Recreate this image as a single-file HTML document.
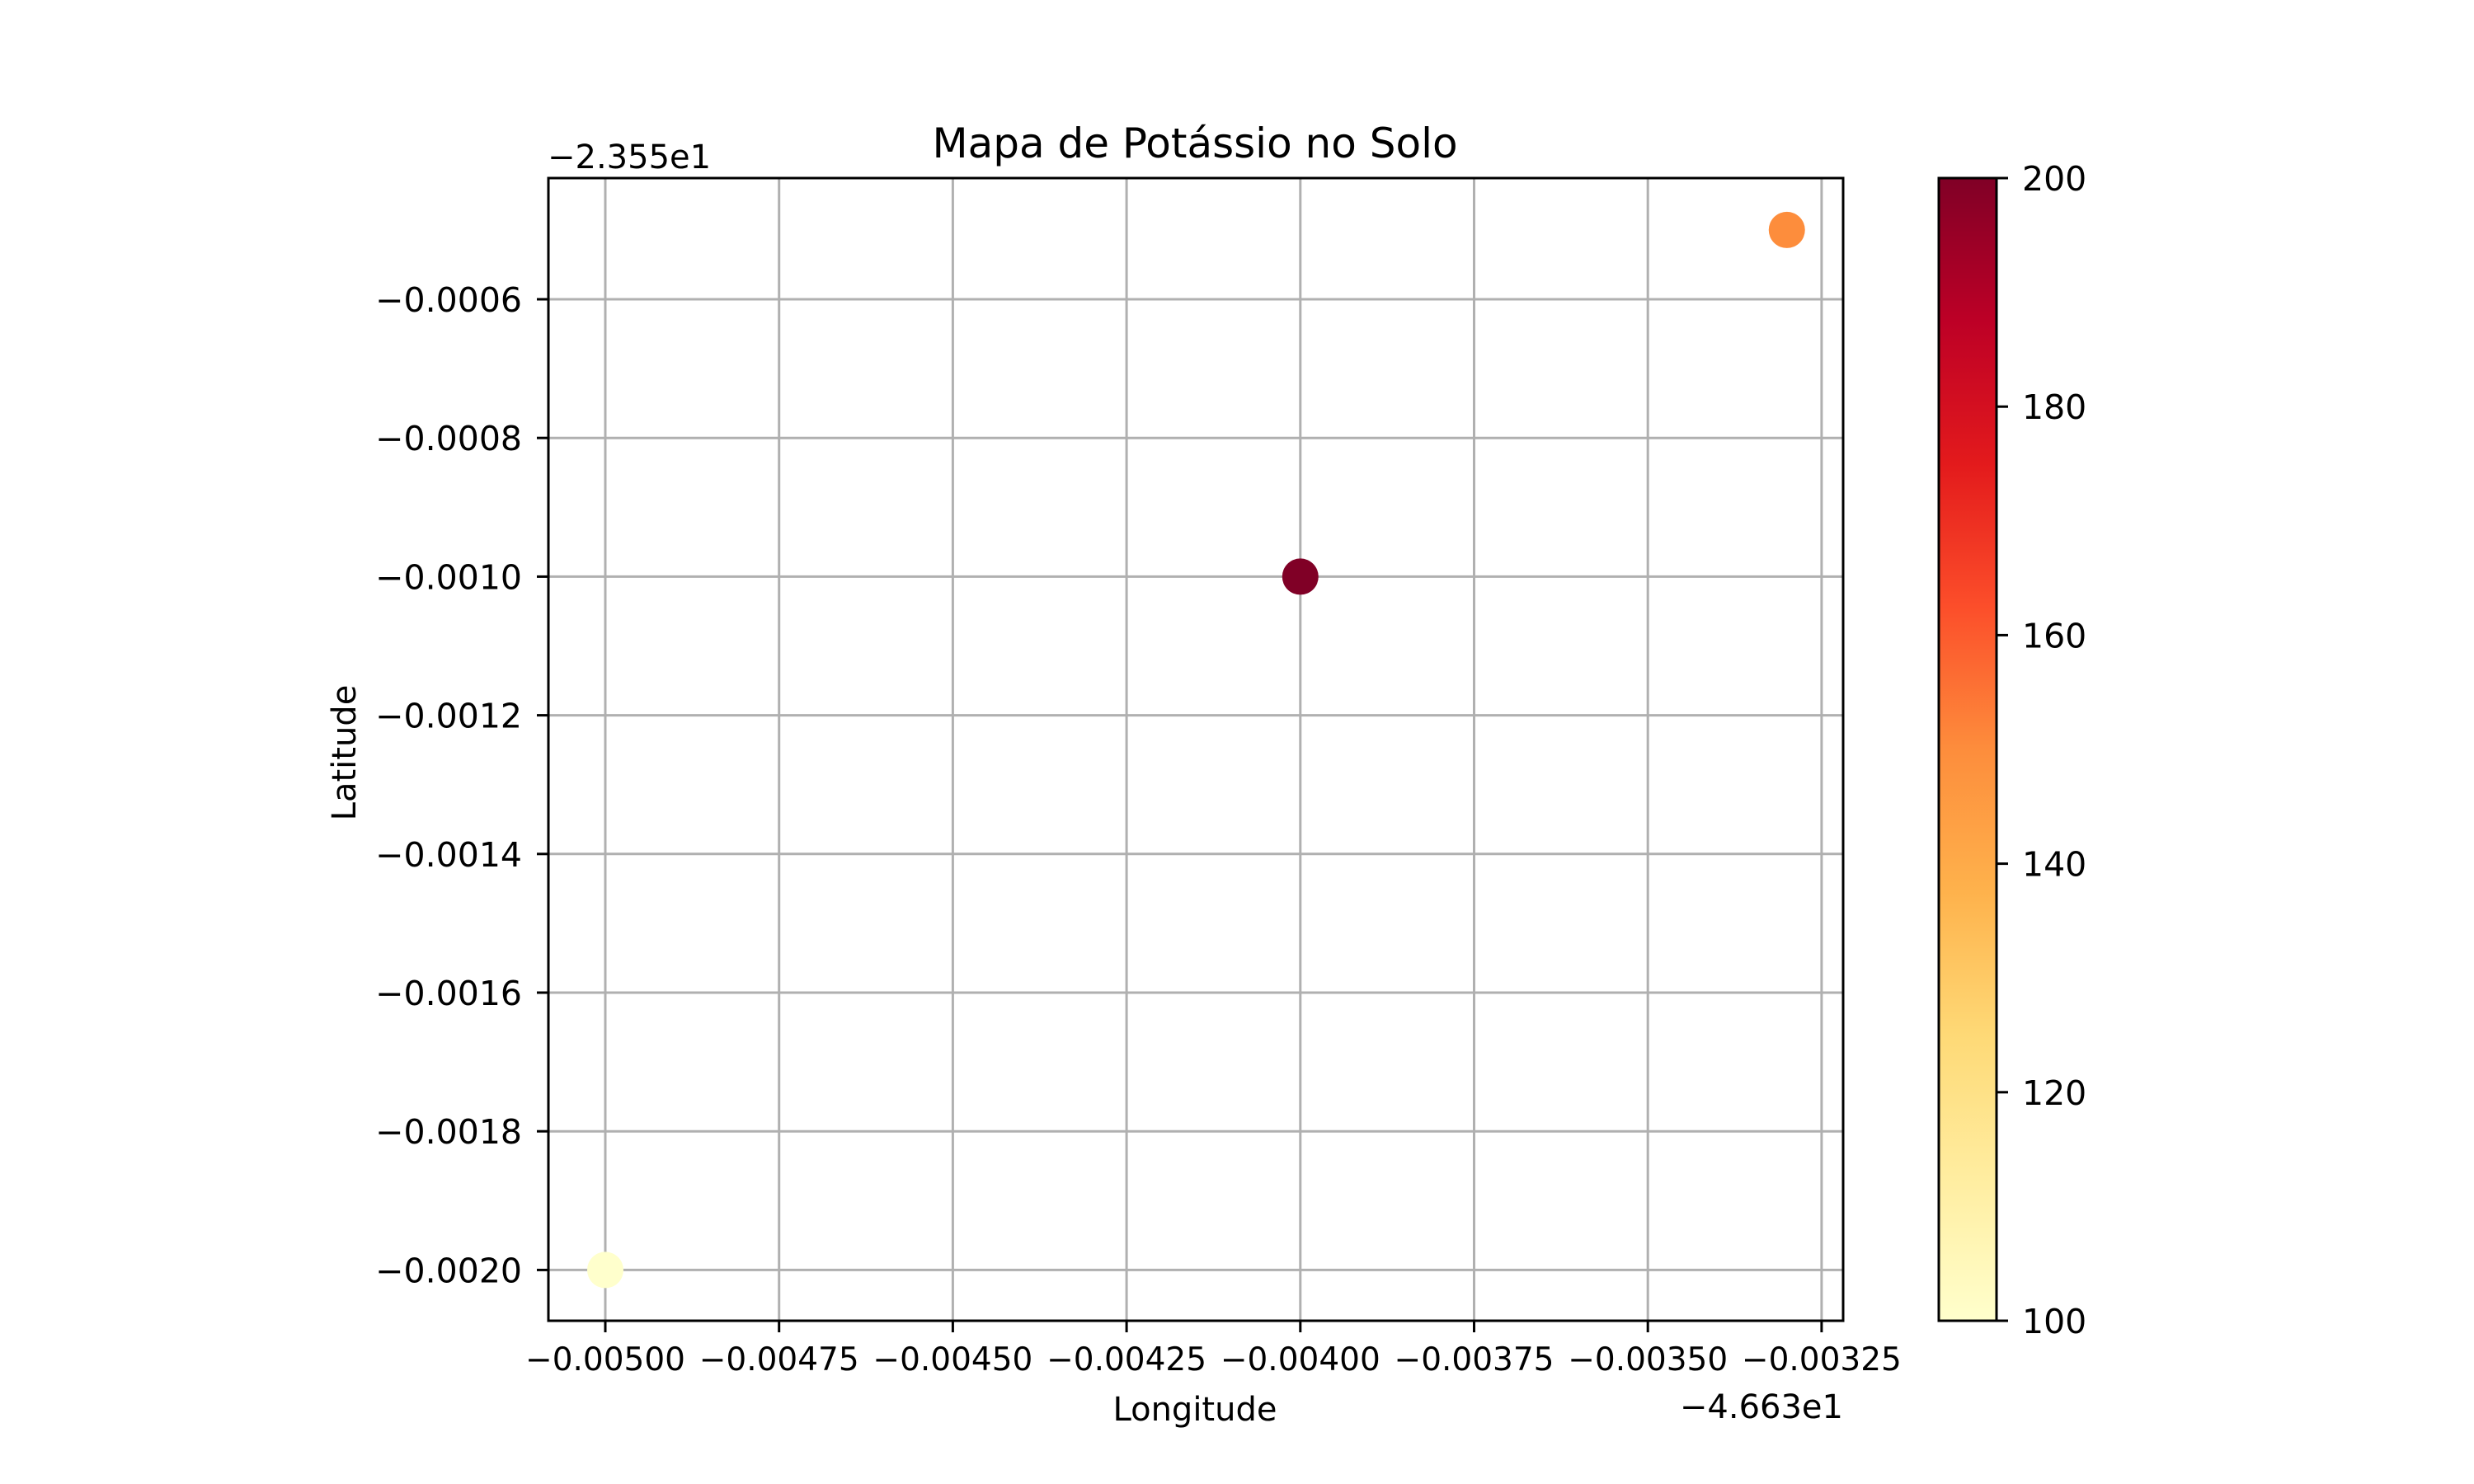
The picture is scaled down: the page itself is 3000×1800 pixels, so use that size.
<!DOCTYPE html>
<html><head><meta charset="utf-8"><style>
html,body{margin:0;padding:0;background:#fff;}
svg{display:block;font-family:"DejaVu Sans","Liberation Sans",sans-serif;}
</style></head><body>
<svg id="chart" width="3000" height="1800" viewBox="0 0 3000 1800">
<defs>
<linearGradient id="ylorrd" x1="0" y1="1" x2="0" y2="0">
<stop offset="0" stop-color="#ffffcc"/><stop offset="0.125" stop-color="#ffeda0"/>
<stop offset="0.25" stop-color="#fed976"/><stop offset="0.375" stop-color="#feb24c"/>
<stop offset="0.5" stop-color="#fd8d3c"/><stop offset="0.625" stop-color="#fc4e2a"/>
<stop offset="0.75" stop-color="#e31a1c"/><stop offset="0.875" stop-color="#bd0026"/>
<stop offset="1" stop-color="#800026"/></linearGradient>
</defs>
<g id="grid"></g>
<g id="points"></g>
<rect x="665" y="216" width="1570" height="1386" fill="none" stroke="#000" stroke-width="3"/>
<g id="ticks"></g>
<text x="1449" y="191" font-size="50" text-anchor="middle">Mapa de Potássio no Solo</text>
<text x="664" y="204" font-size="40">−2.355e1</text>
<text x="2235" y="1720" font-size="40" text-anchor="end">−4.663e1</text>
<text x="1449" y="1723" font-size="40" text-anchor="middle">Longitude</text>
<text x="431" y="913" font-size="40" text-anchor="middle" transform="rotate(-90 431 913)">Latitude</text>
<rect x="2351" y="216" width="70" height="1386" fill="url(#ylorrd)" stroke="#000" stroke-width="3"/>
<g id="cbticks"></g>
</svg>
<script>
const lons = [-0.005, -0.004, -0.0033];
const lats = [-0.002, -0.001, -0.0005];
const potassium = [100, 200, 150];
const xTicks = [-0.005, -0.00475, -0.0045, -0.00425, -0.004, -0.00375, -0.0035, -0.00325];
const xTickLabels = ["−0.00500","−0.00475","−0.00450","−0.00425","−0.00400","−0.00375","−0.00350","−0.00325"];
const yTicks = [-0.0006, -0.0008, -0.001, -0.0012, -0.0014, -0.0016, -0.0018, -0.002];
const yTickLabels = ["−0.0006","−0.0008","−0.0010","−0.0012","−0.0014","−0.0016","−0.0018","−0.0020"];
const cbTicks = [100, 120, 140, 160, 180, 200];

const NS = "http://www.w3.org/2000/svg";
const X = v => 734 + (v + 0.005) / 0.00025 * 210.7;
const Y = v => 363 + (-0.0006 - v) / 0.0002 * 168.2;
const CB = v => 1602 - (v - 100) / 100 * 1386;
const stops = [[0,"#ffffcc"],[.125,"#ffeda0"],[.25,"#fed976"],[.375,"#feb24c"],[.5,"#fd8d3c"],[.625,"#fc4e2a"],[.75,"#e31a1c"],[.875,"#bd0026"],[1,"#800026"]];
function hex(h){return [1,3,5].map(i=>parseInt(h.substr(i,2),16));}
function cmap(v){
  const t=Math.max(0,Math.min(1,(v-100)/100));
  for(let i=0;i<stops.length-1;i++){
    if(t<=stops[i+1][0]){
      const f=(t-stops[i][0])/(stops[i+1][0]-stops[i][0]);
      const a=hex(stops[i][1]),b=hex(stops[i+1][1]);
      return "rgb("+a.map((c,k)=>Math.round(c+(b[k]-c)*f)).join(",")+")";
    }
  }
  return stops[8][1];
}
function mk(tag, attrs, parent, text){
  const e=document.createElementNS(NS,tag);
  for(const k in attrs) e.setAttribute(k,attrs[k]);
  if(text!==undefined) e.textContent=text;
  document.getElementById(parent).appendChild(e);
  return e;
}
xTicks.forEach((v,i)=>{
  const x=X(v);
  let g=mk("line",{x1:x,x2:x,y1:216,y2:1602,stroke:"#b0b0b0","stroke-width":3},"grid");
  
  
  let t=mk("line",{x1:x,x2:x,y1:1602,y2:1616,stroke:"#000","stroke-width":3},"ticks");
  
  
  let l=mk("text",{x:x,y:1662,"font-size":39,"text-anchor":"middle"},"ticks",xTickLabels[i]);
  
  
});
yTicks.forEach((v,i)=>{
  const y=Y(v);
  let g=mk("line",{x1:665,x2:2235,y1:y,y2:y,stroke:"#b0b0b0","stroke-width":3},"grid");
  
  
  let t=mk("line",{x1:651,x2:665,y1:y,y2:y,stroke:"#000","stroke-width":3},"ticks");
  
  
  let l=mk("text",{x:633,y:y+15,"font-size":41,"text-anchor":"end"},"ticks",yTickLabels[i]);
  
  
});
lons.forEach((v,i)=>{
  let c=mk("circle",{cx:X(v),cy:Y(lats[i]),r:22,fill:cmap(potassium[i])},"points");
  
  
});
cbTicks.forEach(v=>{
  const y=CB(v);
  let t=mk("line",{x1:2421,x2:2435,y1:y,y2:y,stroke:"#000","stroke-width":3},"cbticks");
  
  
  let l=mk("text",{x:2452,y:y+15,"font-size":41},"cbticks",String(v));
  
  
});
</script>
</body></html>
